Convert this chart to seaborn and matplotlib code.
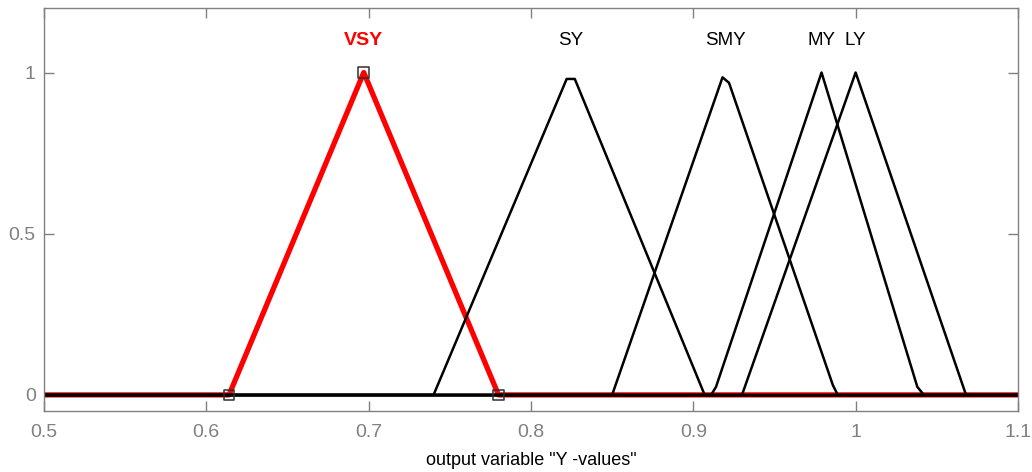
import matplotlib
matplotlib.use("Agg")
import matplotlib.pyplot as plt
import seaborn as sns

# membership function vertices (x, degree)
vsy_x = [0.5, 0.614, 0.697, 0.780, 1.1]
vsy_y = [0.0, 0.0, 1.0, 0.0, 0.0]

sy_x = [0.5, 0.740, 0.822, 0.827, 0.907, 1.1]
sy_y = [0.0, 0.0, 0.98, 0.98, 0.0, 0.0]

smy_x = [0.5, 0.850, 0.918, 0.922, 0.986, 0.989, 1.1]
smy_y = [0.0, 0.0, 0.985, 0.968, 0.03, 0.0, 0.0]

my_x = [0.5, 0.911, 0.914, 0.979, 1.038, 1.042, 1.1]
my_y = [0.0, 0.0, 0.025, 1.0, 0.025, 0.0, 0.0]

ly_x = [0.5, 0.930, 1.000, 1.068, 1.1]
ly_y = [0.0, 0.0, 1.0, 0.0, 0.0]

# vertices of the selected function marked with squares
marker_x = [0.614, 0.697, 0.780]
marker_y = [0.0, 1.0, 0.0]

mf_names = ["VSY", "SY", "SMY", "MY", "LY"]
label_x = [0.697, 0.8245, 0.920, 0.979, 1.000]

x_ticks = [0.5, 0.6, 0.7, 0.8, 0.9, 1.0, 1.1]
x_tick_labels = ["0.5", "0.6", "0.7", "0.8", "0.9", "1", "1.1"]
y_ticks = [0, 0.5, 1]
y_tick_labels = ["0", "0.5", "1"]

sns.set_theme(style="white")
plt.rcParams["font.family"] = ["Liberation Sans", "DejaVu Sans"]

fig = plt.figure(figsize=(10.32, 4.72), dpi=100)
ax = fig.add_axes([0.0426, 0.1292, 0.9438, 0.8538])

gray = "#808080"

# highlighted function first, so the black lines sit on top of it
sns.lineplot(x=vsy_x, y=vsy_y, ax=ax, color="#ff0000", lw=3.8,
             sort=False, estimator=None)

for xs, ys in [(sy_x, sy_y), (smy_x, smy_y), (my_x, my_y), (ly_x, ly_y)]:
    sns.lineplot(x=xs, y=ys, ax=ax, color="black", lw=1.8,
                 sort=False, estimator=None)

# the zero line of every function is black, over the red one
sns.lineplot(x=[0.5, 1.1], y=[0.0, 0.0], ax=ax, color="black", lw=1.8,
             sort=False, estimator=None)

sns.scatterplot(x=marker_x, y=marker_y, ax=ax, marker="s", s=60,
                facecolor="none", edgecolor="#303030", linewidth=1.1,
                zorder=5)

for name, lx in zip(mf_names, label_x):
    if name == "VSY":
        ax.text(lx, 1.099, name, color="#ff0000", fontsize=14,
                fontweight="bold", ha="center", va="center")
    else:
        ax.text(lx, 1.099, name, color="black", fontsize=13.5,
                ha="center", va="center")

ax.set_xlim(0.5, 1.1)
ax.set_ylim(-0.05, 1.2)
ax.set_xticks(x_ticks)
ax.set_xticklabels(x_tick_labels)
ax.set_yticks(y_ticks)
ax.set_yticklabels(y_tick_labels)
ax.tick_params(axis="both", direction="in", length=7, width=1, color=gray,
               labelcolor=gray, labelsize=14, top=True, right=True,
               bottom=True, left=True)
ax.tick_params(axis="x", pad=9)
ax.tick_params(axis="y", pad=6)

for side in ["left", "right", "top", "bottom"]:
    ax.spines[side].set_visible(True)
    ax.spines[side].set_color(gray)
    ax.spines[side].set_linewidth(1.0)

ax.set_xlabel('output variable "Y -values"', fontsize=13, color="black",
              labelpad=8)
ax.set_ylabel("")

fig.savefig("out.png", dpi=100)
